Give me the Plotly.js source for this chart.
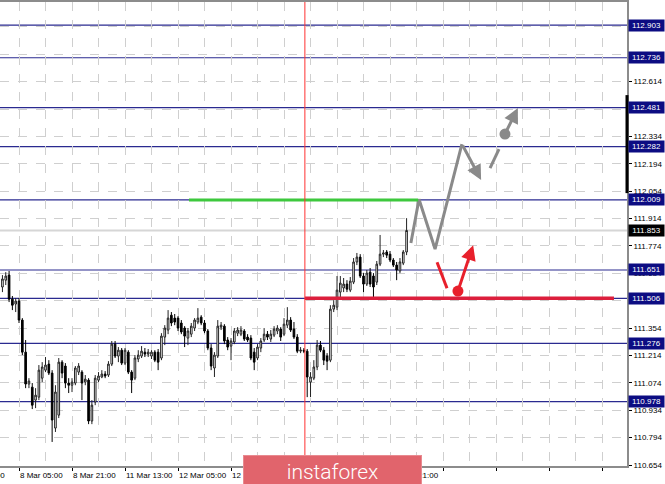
<!DOCTYPE html>
<html>
<head>
<meta charset="utf-8">
<script src="https://cdn.plot.ly/plotly-3.0.1.min.js"></script>
<style>html,body{margin:0;padding:0;background:#fff;}#chart{width:665px;height:484px;}</style>
</head>
<body>
<div id="chart"></div>
<script>
// ---- Data (H1 bars) ----
const FIRST_BAR = 5;
const open = [111.564,111.599,111.625,111.502,111.477,111.492,111.395,111.231,111.068,111.052,110.986,111.001,111.098,111.139,111.170,111.124,110.843,110.909,111.180,111.160,111.073,111.062,111.073,111.129,111.129,111.078,111.088,110.879,110.976,111.088,111.104,111.119,111.114,111.170,111.272,111.211,111.241,111.175,111.231,111.129,111.098,111.196,111.211,111.231,111.221,111.211,111.231,111.231,111.201,111.308,111.344,111.420,111.405,111.405,111.380,111.354,111.303,111.323,111.354,111.385,111.410,111.380,111.339,111.252,111.150,111.211,111.359,111.364,111.293,111.262,111.283,111.328,111.323,111.339,111.308,111.303,111.231,111.201,111.252,111.293,111.323,111.298,111.318,111.339,111.349,111.323,111.369,111.395,111.349,111.308,111.236,111.241,111.236,111.078,111.098,111.155,111.267,111.241,111.211,111.190,111.451,111.461,111.538,111.559,111.579,111.548,111.589,111.692,111.717,111.620,111.579,111.640,111.620,111.589,111.681,111.732,111.743,111.732,111.702,111.676,111.646,111.686,111.743];
const high = [111.625,111.640,111.646,111.518,111.508,111.508,111.405,111.293,111.098,111.073,111.047,111.165,111.180,111.206,111.190,111.139,111.062,111.201,111.190,111.175,111.098,111.098,111.160,111.175,111.139,111.114,111.098,110.986,111.114,111.129,111.139,111.134,111.185,111.288,111.288,111.257,111.252,111.252,111.241,111.139,111.216,111.241,111.262,111.252,111.247,111.241,111.241,111.247,111.328,111.369,111.446,111.436,111.426,111.415,111.395,111.364,111.354,111.380,111.405,111.456,111.420,111.395,111.349,111.272,111.231,111.395,111.385,111.374,111.308,111.303,111.354,111.359,111.364,111.349,111.323,111.318,111.252,111.272,111.303,111.354,111.339,111.344,111.364,111.369,111.359,111.405,111.461,111.410,111.385,111.323,111.257,111.252,111.247,111.129,111.190,111.293,111.288,111.257,111.226,111.471,111.497,111.620,111.620,111.610,111.599,111.615,111.712,111.738,111.732,111.635,111.651,111.661,111.635,111.697,111.830,111.753,111.753,111.748,111.712,111.692,111.712,111.753,111.916];
const low = [111.538,111.574,111.487,111.446,111.436,111.380,111.216,111.047,111.047,110.940,110.945,110.986,111.078,111.129,111.114,110.772,110.823,110.894,111.098,111.047,111.022,111.027,111.062,111.114,110.986,111.062,110.863,110.863,110.960,111.078,111.098,111.098,111.104,111.160,111.201,111.180,111.165,111.165,111.119,111.022,111.088,111.180,111.201,111.206,111.206,111.196,111.180,111.139,111.190,111.267,111.323,111.364,111.369,111.339,111.323,111.257,111.267,111.308,111.339,111.374,111.369,111.328,111.241,111.139,111.104,111.201,111.344,111.272,111.241,111.190,111.272,111.313,111.313,111.288,111.283,111.190,111.139,111.190,111.231,111.283,111.293,111.283,111.308,111.323,111.288,111.313,111.354,111.334,111.298,111.226,111.226,111.226,111.001,111.001,111.088,111.139,111.231,111.165,111.139,111.180,111.436,111.446,111.508,111.538,111.538,111.538,111.579,111.676,111.610,111.538,111.569,111.564,111.513,111.574,111.671,111.717,111.712,111.692,111.666,111.599,111.635,111.676,111.727];
const close = [111.605,111.620,111.502,111.471,111.492,111.395,111.231,111.068,111.083,110.960,111.011,111.139,111.155,111.165,111.124,110.884,111.027,111.180,111.124,111.073,111.062,111.078,111.150,111.160,111.073,111.093,110.879,110.960,111.098,111.109,111.119,111.109,111.170,111.272,111.211,111.241,111.175,111.241,111.129,111.088,111.201,111.216,111.236,111.221,111.231,111.231,111.190,111.180,111.313,111.354,111.405,111.380,111.385,111.354,111.334,111.313,111.339,111.364,111.395,111.405,111.380,111.339,111.252,111.160,111.216,111.364,111.369,111.288,111.257,111.288,111.339,111.344,111.344,111.298,111.293,111.201,111.180,111.257,111.288,111.323,111.308,111.323,111.349,111.354,111.308,111.374,111.395,111.344,111.308,111.236,111.241,111.236,111.104,111.104,111.155,111.267,111.241,111.190,111.185,111.451,111.471,111.548,111.584,111.579,111.553,111.594,111.692,111.717,111.620,111.579,111.635,111.579,111.564,111.681,111.732,111.738,111.727,111.702,111.676,111.651,111.692,111.743,111.853];

// time labels (every 16 bars)
const labelBars = [-6, 10, 26, 42, 58, 74, 90, 106, 122];
const labelText = ['7 Mar 13:00','8 Mar 05:00','8 Mar 21:00','11 Mar 13:00','12 Mar 05:00','12 Mar 21:00','13 Mar 13:00','14 Mar 05:00','14 Mar 21:00'];

// horizontal levels
const levels = [112.903, 112.736, 112.481, 112.282, 112.009, 111.651, 111.506, 111.276, 110.978];
const bidPrice = 111.853;
const greenLevel = {price: 112.009, fromBar: 61.3, toBar: 130.5};
const redLevel = {price: 111.506, fromBar: 96.3, toBar: 189.6};
const markerBar = 96.3;

// forecast paths
const grayPathX = [128.3, 130.75, 135.6, 143.7];
const grayPathY = [111.789, 112.013, 111.758, 112.295];
const grayArrow1 = {x: 149.5, y: 112.111};
const grayDashX = [152.2, 154.9];
const grayDashY = [112.172, 112.269];
const grayDot = {x: 156.7, y: 112.346};
const grayArrow2 = {x: 160.6, y: 112.479};
const redDashX = [136.2, 139.2];
const redDashY = [111.691, 111.558];
const redDot = {x: 142.5, y: 111.543};
const redArrow = {x: 147.1, y: 111.778};

// axis settings
const X_RANGE = [4.26, 193.54];
const Y_RANGE = [110.649, 113.021];

// ---- Build ----
const xs = open.map((_, i) => FIRST_BAR + i);
const FONT = 'Liberation Sans, Arial, sans-serif';
const GRAY = '#8a8a8a';
const RED = '#e8202c';
const NAVY = '#2a2a90';

const traces = [
  {
    type: 'candlestick', x: xs, open: open, high: high, low: low, close: close,
    increasing: {line: {color: '#222', width: 1}, fillcolor: '#ffffff'},
    decreasing: {line: {color: '#000', width: 1}, fillcolor: '#000000'},
    whiskerwidth: 0, hoverinfo: 'skip'
  },
  {type: 'scatter', mode: 'lines', x: grayPathX, y: grayPathY, line: {color: GRAY, width: 3}, hoverinfo: 'skip'},
  {type: 'scatter', mode: 'lines', x: grayDashX, y: grayDashY, line: {color: GRAY, width: 3}, hoverinfo: 'skip'},
  {type: 'scatter', mode: 'markers', x: [grayDot.x], y: [grayDot.y], marker: {color: GRAY, size: 11}, hoverinfo: 'skip'},
  {type: 'scatter', mode: 'lines', x: redDashX, y: redDashY, line: {color: RED, width: 3}, hoverinfo: 'skip'},
  {type: 'scatter', mode: 'markers', x: [redDot.x], y: [redDot.y], marker: {color: RED, size: 11}, hoverinfo: 'skip'}
];

const shapes = [];
levels.forEach(v => shapes.push({type: 'line', xref: 'paper', yref: 'y', x0: 0, x1: 1, y0: v, y1: v, line: {color: NAVY, width: 1.2}, layer: 'below'}));
shapes.push({type: 'line', xref: 'paper', yref: 'y', x0: 0, x1: 1, y0: bidPrice, y1: bidPrice, line: {color: '#d6d6d6', width: 2}, layer: 'below'});
shapes.push({type: 'line', xref: 'x', yref: 'y', x0: greenLevel.fromBar, x1: greenLevel.toBar, y0: greenLevel.price, y1: greenLevel.price, line: {color: '#3dc83d', width: 3}});
shapes.push({type: 'line', xref: 'x', yref: 'y', x0: redLevel.fromBar, x1: redLevel.toBar, y0: redLevel.price, y1: redLevel.price, line: {color: '#dc1e3c', width: 3.5}});
shapes.push({type: 'line', xref: 'x', yref: 'paper', x0: markerBar, x1: markerBar, y0: 0, y1: 1, line: {color: '#ff3030', width: 1}});
shapes.push({type: 'line', xref: 'paper', yref: 'y', x0: 1, x1: 1, y0: 112.044, y1: 112.545, line: {color: '#000', width: 3}});

const annotations = [];
// x labels (left-aligned at tick like MT4)
labelBars.forEach((b, i) => {
  if (b < X_RANGE[0]) {
    annotations.push({xref: 'paper', yref: 'paper', x: 0, y: 0, xanchor: 'right', yanchor: 'top', xshift: 7, yshift: -3,
      text: labelText[i], showarrow: false, font: {family: FONT, size: 8, color: '#000'}});
  } else {
    annotations.push({xref: 'x', yref: 'paper', x: b, y: 0, xanchor: 'left', yanchor: 'top', yshift: -3, xshift: -1,
      text: labelText[i], showarrow: false, font: {family: FONT, size: 8, color: '#000'}});
  }
});
// level label boxes
levels.forEach(v => annotations.push({xref: 'paper', yref: 'y', x: 1, y: v, xanchor: 'left', yanchor: 'middle', xshift: 1,
  text: v.toFixed(3), showarrow: false, bgcolor: '#0c0c82', borderpad: 1, width: 33,
  font: {family: FONT, size: 8, color: '#fff'}}));
annotations.push({xref: 'paper', yref: 'y', x: 1, y: bidPrice, xanchor: 'left', yanchor: 'middle', xshift: 1,
  text: bidPrice.toFixed(3), showarrow: false, bgcolor: '#000', borderpad: 1, width: 33,
  font: {family: FONT, size: 8, color: '#fff'}});
// arrows
function arrow(from, to, color) {
  return {xref: 'x', yref: 'y', axref: 'x', ayref: 'y', x: to.x, y: to.y, ax: from.x, ay: from.y,
    text: '', showarrow: true, arrowhead: 2, arrowsize: 1, arrowwidth: 3, arrowcolor: color};
}
annotations.push(arrow({x: grayPathX[grayPathX.length - 1], y: grayPathY[grayPathY.length - 1]}, grayArrow1, GRAY));
annotations.push(arrow(grayDot, grayArrow2, GRAY));
annotations.push(arrow(redDot, redArrow, RED));
// logo
annotations.push({xref: 'paper', yref: 'paper', x: 332.5 / 627, y: -18 / 464 * 0.3, xanchor: 'center', yanchor: 'middle',
  text: 'instaforex', showarrow: false, bgcolor: '#e1646c', bordercolor: '#e88a90', borderwidth: 1,
  width: 175, height: 29, font: {family: 'Roboto, sans-serif', size: 21, color: '#fff', weight: 300}});

const layout = {
  width: 665, height: 484,
  margin: {l: 0, r: 38, t: 2, b: 18, pad: 0},
  paper_bgcolor: '#fff', plot_bgcolor: '#fff',
  showlegend: false, hovermode: false, dragmode: false,
  font: {family: FONT, size: 8, color: '#000'},
  xaxis: {
    type: 'linear', range: X_RANGE, rangeslider: {visible: false}, fixedrange: true,
    tickmode: 'linear', tick0: 10, dtick: 16, showticklabels: false,
    ticks: 'outside', ticklen: 3, tickcolor: '#000', tickwidth: 1,
    showgrid: true, gridcolor: '#cfcfcf', griddash: 'dash', gridwidth: 1,
    minor: {tickmode: 'linear', tick0: 10, dtick: 8, showgrid: true, gridcolor: '#cfcfcf', griddash: 'dash', ticks: ''},
    showline: true, linecolor: '#8c8c8c', linewidth: 2, mirror: true, zeroline: false
  },
  yaxis: {
    type: 'linear', range: Y_RANGE, side: 'right', fixedrange: true,
    tickmode: 'linear', tick0: 110.654, dtick: 0.14, tickformat: '.3f',
    ticks: 'outside', ticklen: 3, tickcolor: '#000',
    tickfont: {family: FONT, size: 8, color: '#000'},
    showgrid: true, gridcolor: '#cfcfcf', griddash: 'dash', gridwidth: 1,
    showline: true, linecolor: '#8c8c8c', linewidth: 2, zeroline: false
  },
  shapes: shapes,
  annotations: annotations
};

Plotly.newPlot('chart', traces, layout, {displayModeBar: false, staticPlot: true});
</script>
</body>
</html>
